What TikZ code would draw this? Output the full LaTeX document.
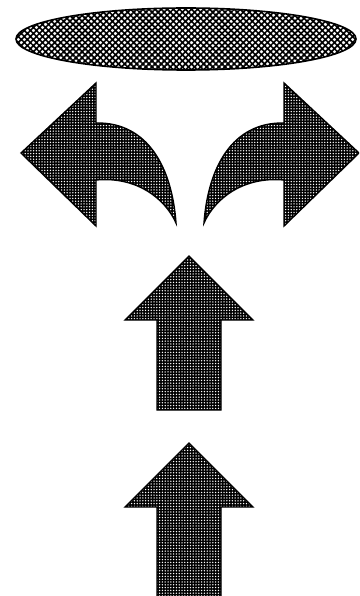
\documentclass[tikz,border=0pt]{standalone}
\usepackage{tikz}
\usetikzlibrary{patterns}
\usetikzlibrary{patterns.meta}
\tikzset{
  dark_shape/.style = {draw=black, line width=1.4pt, line join=miter,
    preaction={fill=black},
    pattern={Dots[distance=2.8pt, radius=0.75pt]}, pattern color=white},% fleches, trame de points
  mesh_shape/.style = {draw=black, line width=1.6pt,
    preaction={fill=white},
    pattern={Lines[angle=45,distance=4.3pt,line width=1.7pt]},
    pattern color=black,
    postaction={pattern={Lines[angle=-45,distance=4.3pt,line width=1.7pt]},
      pattern color=black}}% ellipse, trame croisee
}

\begin{document}
\begin{tikzpicture}[x=1pt, y=-1pt]
        \useasboundingbox (0,0) rectangle (359,596);
        \clip (0,0) rectangle (359,596);
      % ellipse du haut
      \path [mesh_shape] (186,39) ellipse [x radius=170, y radius=31];
      % fleches courbes (gauche, puis miroir a droite)
      \foreach \side in {1,-1}{
        \begin{scope}[xshift=190pt, xscale=\side, xshift=-190pt]
          \path [dark_shape] (21,153) -- (96,83) -- (96,123)
            .. controls (148,122) and (172,168) .. (176,223)
            .. controls (166,200) and (138,176) .. (96,180)
            -- (96,226) -- cycle;
        \end{scope}
      }
      % fleches droites
      \foreach \tip/\bot in {256/410, 443/600}{
        \path [dark_shape] (189,\tip) -- (253,\tip+64) -- (221,\tip+64)
          -- (221,\bot) -- (157,\bot) -- (157,\tip+64) -- (125,\tip+64) -- cycle;
      }
\end{tikzpicture}
\end{document}
